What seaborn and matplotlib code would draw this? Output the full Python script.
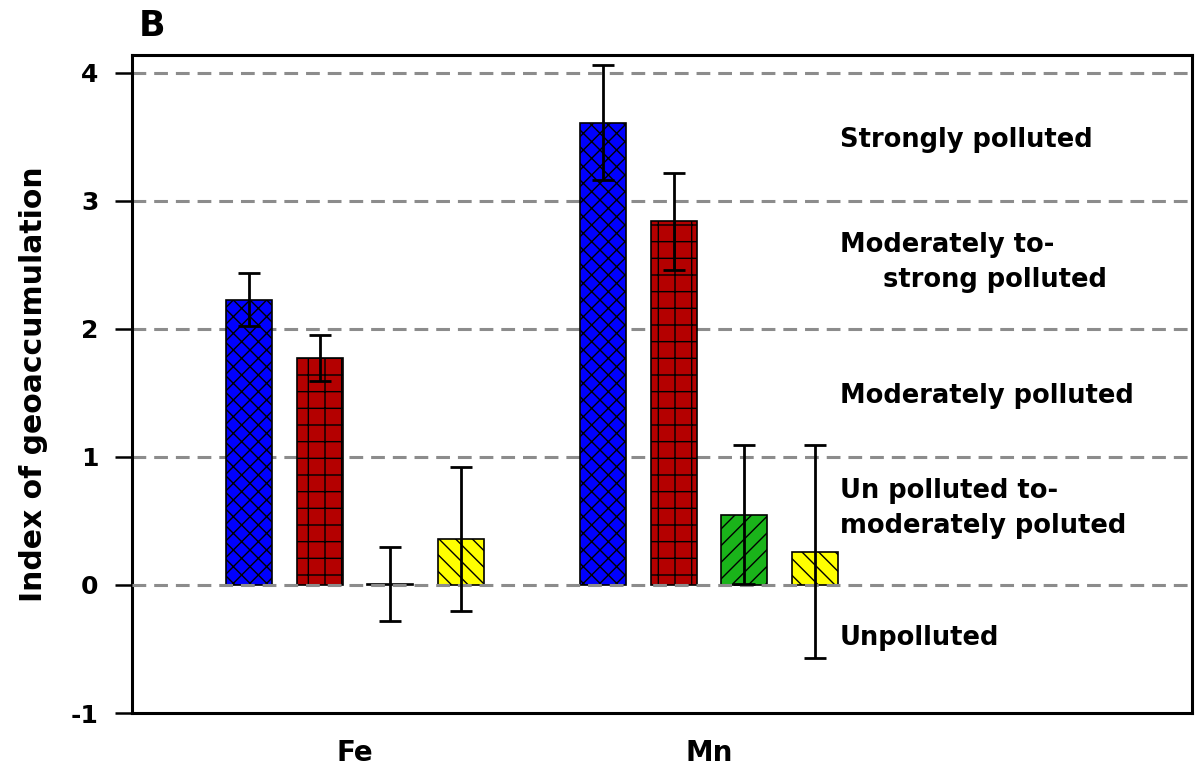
import matplotlib
matplotlib.use("Agg")
import matplotlib.pyplot as plt
import seaborn as sns
import pandas as pd

# Geoaccumulation index (mean and SD) per element and sampling site
elements = ["Fe", "Mn"]
sites = ["Site 1", "Site 2", "Site 3", "Site 4"]
fe_mean = [2.23, 1.77, 0.01, 0.36]
fe_sd = [0.21, 0.18, 0.29, 0.56]
mn_mean = [3.61, 2.84, 0.55, 0.26]
mn_sd = [0.45, 0.38, 0.54, 0.83]

site_colors = ["#0000FF", "#B40000", "#1AB41A", "#FFFF00"]
site_hatches = ["xx", "+", "//", "\\\\"]

# Pollution classes written on the right (text, baseline value, indented)
class_labels = [
    ("Strongly polluted", 3.42, False),
    ("Moderately to-", 2.60, False),
    ("strong polluted", 2.33, True),
    ("Moderately polluted", 1.42, False),
    ("Un polluted to-", 0.68, False),
    ("moderately poluted", 0.41, False),
    ("Unpolluted", -0.47, False),
]

rows = []
for el, means, sds in [("Fe", fe_mean, fe_sd), ("Mn", mn_mean, mn_sd)]:
    for s, m, sd in zip(sites, means, sds):
        rows.append({"element": el, "site": s, "igeo": m, "sd": sd})
df = pd.DataFrame(rows)

sns.set_theme(style="white")
plt.rcParams["font.family"] = ["DejaVu Sans"]
plt.rcParams["font.weight"] = "bold"
plt.rcParams["hatch.linewidth"] = 1.0
for key in ["text.color", "axes.labelcolor", "xtick.color", "ytick.color"]:
    plt.rcParams[key] = "black"

fig = plt.figure(figsize=(11.97, 7.68), dpi=100)
ax = fig.add_axes([0.1103, 0.0716, 0.8855, 0.8568])

sns.barplot(data=df, x="element", y="igeo", hue="site", order=elements,
            hue_order=sites, palette=site_colors, saturation=1, errorbar=None,
            width=0.8, gap=0.35, edgecolor="black", linewidth=1.2,
            legend=False, ax=ax, zorder=2)

# Hatches and error bars, site by site
for container, hatch, site in zip(ax.containers, site_hatches, sites):
    sub = df[df["site"] == site].set_index("element").loc[elements]
    for patch in container:
        patch.set_hatch(hatch)
    xs = [p.get_x() + p.get_width() / 2 for p in container]
    ax.errorbar(xs, sub["igeo"], yerr=sub["sd"], fmt="none", ecolor="black",
                elinewidth=2, capsize=8, capthick=2, zorder=4)

# Dashed class boundaries
for yv in [1, 2, 3, 4]:
    ax.axhline(yv, color="#8c8c8c", lw=2.2, dashes=(4.5, 2.6), zorder=1)
ax.axhline(0, color="#8c8c8c", lw=2.2, dashes=(4.5, 2.6), zorder=3)

for text, yv, indented in class_labels:
    ax.text(0.7085 if indented else 0.668, yv, text,
            transform=ax.get_yaxis_transform(), ha="left", va="baseline",
            fontsize=18.5, fontweight="bold", color="black")

ax.set_xlim(-0.63, 2.364)
ax.set_ylim(-1, 4.14)
ax.set_yticks([-1, 0, 1, 2, 3, 4])
ax.set_yticklabels(["-1", "0", "1", "2", "3", "4"])
ax.set_xlabel("")
ax.set_ylabel("Index of geoaccumulation", fontsize=21.5, fontweight="bold")
ax.yaxis.set_label_coords(-0.079, 0.5)

ax.tick_params(axis="y", which="both", left=True, length=12, width=1.8,
               direction="out", labelsize=18, pad=12, color="black")
ax.tick_params(axis="x", bottom=False, length=0, labelsize=20, pad=19)
for lbl in ax.get_xticklabels() + ax.get_yticklabels():
    lbl.set_fontweight("bold")

for side in ["left", "right", "top", "bottom"]:
    ax.spines[side].set_visible(True)
    ax.spines[side].set_color("black")
    ax.spines[side].set_linewidth(2.2)

fig.text(0.116, 0.966, "B", fontsize=25, fontweight="bold", ha="left", va="center")

fig.savefig("out.png", dpi=100)
